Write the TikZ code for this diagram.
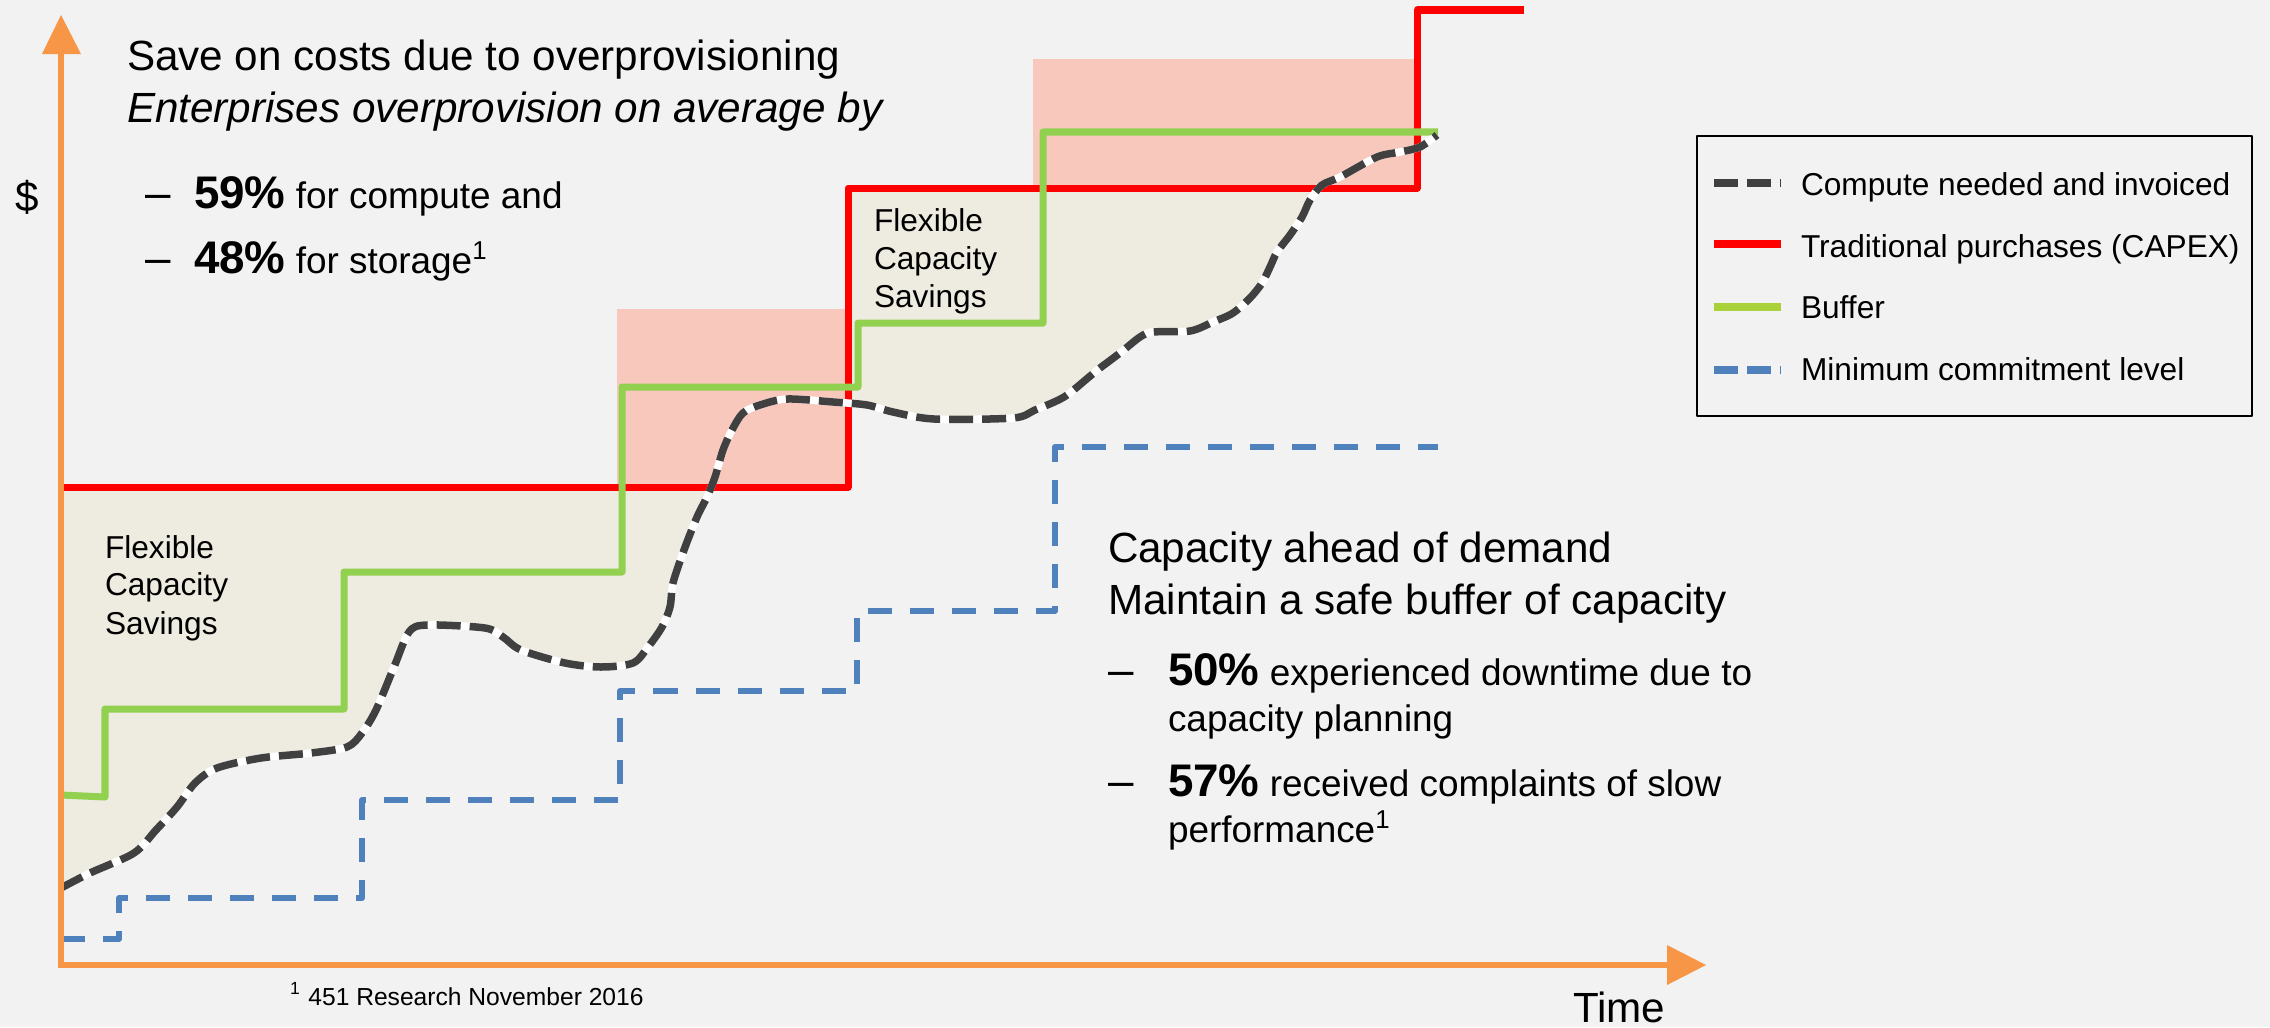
\documentclass[tikz,border=0pt]{standalone}
\usepackage{fontspec}
\setmainfont{Liberation Sans}
\definecolor{bgc}{HTML}{F2F2F2}
\definecolor{beigec}{HTML}{EEEBE0}
\definecolor{pinkc}{HTML}{F8C8BD}
\definecolor{redc}{HTML}{FF0000}
\definecolor{greenc}{HTML}{92D050}
\definecolor{legreenc}{HTML}{A9D13A}
\definecolor{bluec}{HTML}{4F81BD}
\definecolor{darkc}{HTML}{404040}
\definecolor{orangec}{HTML}{F79646}
\def\demandcurve{plot[smooth,tension=0.5] coordinates {(61,888) (90,873) (134,853) (156,830) (177,807) (195,783) (217,768) (261,758) (311,753) (347,747) (362,733) (376,710) (394,667) (409,632) (427,625) (485,628) (503,637) (521,650) (565,663) (601,667) (633,663) (648,647) (662,627) (670,607) (673,583) (684,550) (697,517) (707,497) (715,477) (723,450) (732,430) (743,413) (760,405) (787,399) (833,402) (867,405) (893,412) (934,419) (1013,418) (1035,410) (1064,397) (1089,377) (1100,368) (1120,353) (1140,337) (1153,332) (1190,331) (1213,322) (1233,313) (1250,298) (1262,283) (1270,267) (1277,252) (1290,235) (1302,217) (1310,200) (1322,185) (1340,177) (1377,157) (1400,152) (1420,147) (1437,135)}}
\begin{document}
\begin{tikzpicture}[x=0.01cm,y=-0.01cm,line join=round,
  txt/.style={inner sep=0pt,outer sep=0pt,anchor=base west},
  titlefont/.style={font=\fontsize{12}{14}\selectfont},
  bulfont/.style={font=\fontsize{10.5}{12.5}\selectfont},
  smallfont/.style={font=\fontsize{9}{11}\selectfont},
  redl/.style={draw=redc,line width=0.07cm},
  greenl/.style={draw=greenc,line width=0.07cm},
  bluel/.style={draw=bluec,line width=0.06cm,dash pattern=on 0.24cm off 0.18cm},
  darkl/.style={draw=darkc,line width=0.075cm,dash pattern=on 0.24cm off 0.09cm},
  axisl/.style={draw=orangec,line width=0.06cm,line join=miter}]
\useasboundingbox (0,0) rectangle (2270,1027);
\fill[bgc] (0,0) rectangle (2270,1027);
% savings area
\begin{scope}
  \clip \demandcurve -- (1438,0) -- (61,0) -- cycle;
  \fill[beigec] (61,487) -- (848,487) -- (848,188) -- (1417,188) -- (1417,1000) -- (61,1000) -- cycle;
\end{scope}
% overprovisioning areas
\fill[pinkc] (617,309) rectangle (848,487);
\fill[pinkc] (1033,59) rectangle (1417,188);
% lines
\draw[redl] (64,487) -- (848,487) -- (848,188) -- (1417,188) -- (1417,10) -- (1524,10);
\draw[greenl] (61,795) -- (105,797) -- (105,709) -- (344,709) -- (344,572) -- (622,572) -- (622,387) -- (858,387) -- (858,323) -- (1043,323) -- (1043,132) -- (1438,132);
\draw[bluel] (61,939) -- (119,939) -- (119,898) -- (362,898) -- (362,800) -- (620,800) -- (620,691) -- (857,691) -- (857,611) -- (1055,611) -- (1055,447) -- (1438,447);
\draw[white,line width=0.075cm] \demandcurve;
\draw[darkl] \demandcurve;
% axes
\draw[axisl] (61,54) -- (61,965) -- (1667,965);
\fill[orangec] (61,15) -- (81,54) -- (42,54) -- cycle;
\fill[orangec] (1706,965) -- (1667,945) -- (1667,985) -- cycle;
\node[inner sep=0pt,anchor=base,titlefont] (dollar) at (27,211) {\$};
\node[txt,titlefont] (time) at (1573,1022) {Time};
% left text block
\node[txt,titlefont] (t1) at (127,70) {Save on costs due to overprovisioning};
\node[txt,titlefont] (t2) at (127,122) {\itshape Enterprises overprovision on average by};
\node[txt,font=\fontsize{13}{15}\selectfont] (d1) at (145,208) {–};
\node[txt,bulfont] (b1) at (194,208) {{\fontsize{13}{15}\selectfont\bfseries 59\%} for compute and};
\node[txt,font=\fontsize{13}{15}\selectfont] (d2) at (145,273) {–};
\node[txt,bulfont] (b2) at (194,273) {{\fontsize{13}{15}\selectfont\bfseries 48\%} for storage\textsuperscript{1}};
% right text block
\node[txt,titlefont] (r1) at (1108,562) {Capacity ahead of demand};
\node[txt,titlefont] (r2) at (1108,614) {Maintain a safe buffer of capacity};
\node[txt,font=\fontsize{13}{15}\selectfont] (d3) at (1108,685) {–};
\node[txt,bulfont] (b3) at (1168,685) {{\fontsize{13}{15}\selectfont\bfseries 50\%} experienced downtime due to};
\node[txt,bulfont] (b3b) at (1168,731) {capacity planning};
\node[txt,font=\fontsize{13}{15}\selectfont] (d4) at (1108,796) {–};
\node[txt,bulfont] (b4) at (1168,796) {{\fontsize{13}{15}\selectfont\bfseries 57\%} received complaints of slow};
\node[txt,bulfont] (b4b) at (1168,842) {performance\textsuperscript{1}};
% flexible capacity savings labels
\node[txt,smallfont] (fa1) at (105,558) {Flexible};
\node[txt,smallfont] (fa2) at (105,595) {Capacity};
\node[txt,smallfont] (fa3) at (105,634) {Savings};
\node[txt,smallfont] (fb1) at (874,231) {Flexible};
\node[txt,smallfont] (fb2) at (874,269) {Capacity};
\node[txt,smallfont] (fb3) at (874,307) {Savings};
% footnote
\node[txt,font=\fontsize{7}{8}\selectfont] (foot) at (290,1005) {\textsuperscript{1} 451 Research November 2016};
% legend
\draw[black,line width=0.025cm] (1697,136) rectangle (2252,416);
\draw[draw=darkc,line width=0.075cm,dash pattern=on 0.24cm off 0.09cm] (1714,183) -- (1781,183);
\draw[redc,line width=0.075cm] (1714,244) -- (1781,244);
\draw[legreenc,line width=0.075cm] (1714,307) -- (1781,307);
\draw[bluec,line width=0.075cm,dash pattern=on 0.24cm off 0.09cm] (1714,370) -- (1781,370);
\node[txt,smallfont] (l1) at (1801,195) {Compute needed and invoiced};
\node[txt,smallfont] (l2) at (1801,257) {Traditional purchases (CAPEX)};
\node[txt,smallfont] (l3) at (1801,318) {Buffer};
\node[txt,smallfont] (l4) at (1801,380) {Minimum commitment level};
\end{tikzpicture}
\end{document}
